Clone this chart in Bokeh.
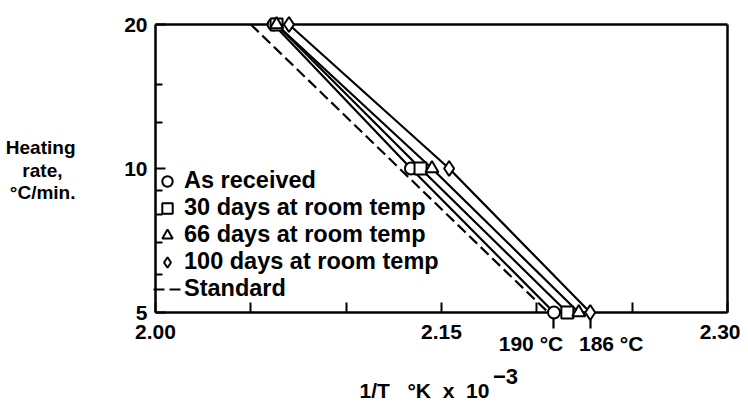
from bokeh.plotting import figure
from bokeh.models import (FixedTicker, Legend, LegendItem, Range1d,
                          PrintfTickFormatter, LinearAxis, LogAxis)
from bokeh.embed import file_html
from bokeh.resources import INLINE

# ---- data ----
rates = [20, 10, 5]
as_received = [2.062, 2.134, 2.209]
days_30 = [2.0635, 2.139, 2.216]
days_66 = [2.0635, 2.145, 2.222]
days_100 = [2.070, 2.154, 2.228]
standard_rates = [20, 5]
standard = [2.050, 2.206]

x_ticks = [2.00, 2.15, 2.30]
x_minor = [2.05, 2.10, 2.20, 2.25]
y_ticks = [5, 10, 20]
y_minor = [6, 7, 8, 9, 12.5, 15]
temp_labels = ["190 °C", "186 °C"]
series_names = ["As received", "30 days at room temp", "66 days at room temp",
                "100 days at room temp"]
standard_name = "Standard"
y_title_lines = ["Heating", "rate,", "°C/min."]
x_title = "1/T\u00a0\u00a0 °K\u00a0 x\u00a0 10"
x_title_sup = "\u22123"

FONT = "Liberation Sans"

# ---- layout (pixels) ----
W, H = 740, 405
FX0, FX1 = 155, 727      # plot box left / right edge
FY0 = 24                 # plot box top edge
OCT_PX = 144             # pixels per doubling of heating rate
FY1 = FY0 + 2 * OCT_PX   # plot box bottom edge
PX_X = (x_ticks[-1] - x_ticks[0]) / (FX1 - FX0)


def xpx(px):
    return x_ticks[0] + (px - FX0) * PX_X


def ypx(py):
    return y_ticks[0] * 2 ** ((FY1 - py) / OCT_PX)


# the frame covers the whole canvas so that nothing is clipped
p = figure(width=W, height=H, output_backend="svg", toolbar_location=None,
           x_range=Range1d(xpx(0), xpx(W)), y_range=Range1d(ypx(H), ypx(0)),
           y_axis_type="log", min_border=0)
p.title.visible = False
p.xgrid.visible = False
p.ygrid.visible = False
p.outline_line_color = None
p.background_fill_color = "white"
p.border_fill_color = "white"

LW = 2.5


def style(ax, size="21px"):
    ax.axis_line_width = LW
    ax.axis_line_color = "black"
    ax.major_tick_out = 0
    ax.minor_tick_out = 0
    ax.major_tick_line_width = 2
    ax.minor_tick_line_width = 2
    ax.major_label_text_font = FONT
    ax.major_label_text_font_style = "bold"
    ax.major_label_text_font_size = size
    ax.major_label_text_color = "black"


def text_axis(cls, loc, pos, text, standoff, side, size="21px"):
    ax = cls(fixed_location=loc, ticker=FixedTicker(ticks=[pos]),
             major_label_overrides={pos: text})
    style(ax, size)
    ax.axis_line_color = None
    ax.major_tick_line_color = None
    ax.major_label_standoff = standoff
    p.add_layout(ax, side)
    return ax


# bottom axis on the 5 line
xa = p.xaxis[0]
style(xa)
xa.fixed_location = y_ticks[0]
xa.bounds = (x_ticks[0], x_ticks[-1])
xa.ticker = FixedTicker(ticks=x_ticks, minor_ticks=x_minor)
xa.formatter = PrintfTickFormatter(format="%.2f")
xa.major_tick_in = 10
xa.minor_tick_in = 10
xa.major_label_standoff = 12

# left axis on the 2.00 line
ya = p.yaxis[0]
style(ya)
ya.fixed_location = x_ticks[0]
ya.bounds = (y_ticks[0], y_ticks[-1])
ya.ticker = FixedTicker(ticks=y_ticks, minor_ticks=y_minor)
ya.formatter = PrintfTickFormatter(format="%d")
ya.major_tick_in = 10
ya.minor_tick_in = 7
ya.major_label_standoff = 8

# top and right frame lines
top_ax = LinearAxis(fixed_location=y_ticks[-1], bounds=(x_ticks[0], x_ticks[-1]),
                    ticker=FixedTicker(ticks=[]))
style(top_ax)
p.add_layout(top_ax, "above")
right_ax = LogAxis(fixed_location=x_ticks[-1], bounds=(y_ticks[0], y_ticks[-1]),
                   ticker=FixedTicker(ticks=[]))
style(right_ax)
p.add_layout(right_ax, "right")

# y axis title, one centred line each
y_title_px = [147, 170, 192]
y_title_standoff = [80, 93, 80]
for line, py, so in zip(y_title_lines, y_title_px, y_title_standoff):
    text_axis(LogAxis, x_ticks[0], ypx(py), line, so, "left", "19px")

# pointer lines under the extreme lines at 5 °C/min
pointer_ticks = [as_received[-1], days_100[-1]]
ptr_ax = LinearAxis(fixed_location=y_ticks[0], ticker=FixedTicker(ticks=pointer_ticks))
style(ptr_ax)
ptr_ax.axis_line_color = None
ptr_ax.major_tick_in = 0
ptr_ax.major_tick_out = 16
ptr_ax.major_tick_line_width = 2.2
ptr_ax.major_label_text_color = None
p.add_layout(ptr_ax, "below")

# temperature labels
text_axis(LinearAxis, y_ticks[0], as_received[-1] - 23 * PX_X, temp_labels[0], 19, "below")
text_axis(LinearAxis, y_ticks[0], days_100[-1] + 21 * PX_X, temp_labels[1], 19, "below")

# x axis title with raised exponent
text_axis(LinearAxis, y_ticks[0], x_ticks[1] - 17 * PX_X, x_title, 66, "below")
text_axis(LinearAxis, y_ticks[0], x_ticks[1] + 64 * PX_X, x_title_sup, 56, "below", "22px")

# ---- data lines and markers ----
series = [as_received, days_30, days_66, days_100]
markers = ["circle", "square", "triangle", "diamond"]
sizes = [12, 12, 13, 15]
items = []
for xs, mk, sz, name in zip(series, markers, sizes, series_names):
    p.line(xs, rates, line_color="black", line_width=2.2)
    r = p.scatter(xs, rates, marker=mk, size=sz, fill_color="white",
                  line_color="black", line_width=2, level="overlay")
    items.append(LegendItem(label=name, renderers=[r]))

rs = p.line(standard, standard_rates, line_color="black", line_width=2.2,
            line_dash="11 5")
items.append(LegendItem(label=standard_name, renderers=[rs]))

legend = Legend(items=items, location=(FX0 - 2, H - 302), padding=0, margin=0,
                border_line_alpha=0, background_fill_alpha=0,
                label_text_font=FONT, label_text_font_style="bold",
                label_text_color="black",
                label_text_font_size="23.5px", glyph_width=28, glyph_height=26,
                label_height=26, spacing=0, label_standoff=3)
p.add_layout(legend, "center")

open("out.html", "w").write(file_html(p, INLINE))
